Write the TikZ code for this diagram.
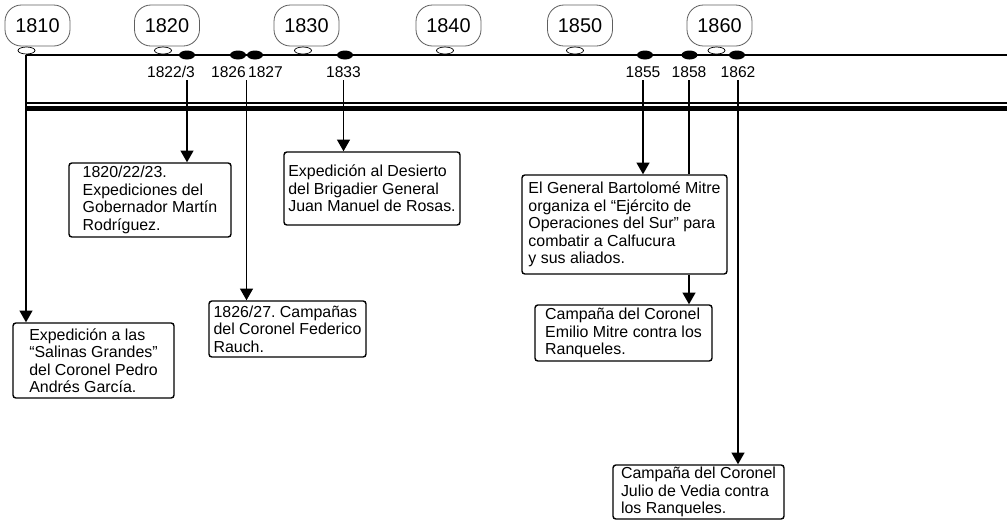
\documentclass[tikz,border=0pt]{standalone}
\usepackage{fontspec}
\setmainfont{Liberation Sans}
\usetikzlibrary{arrows.meta,shapes.geometric,calc,positioning}
\definecolor{bubblegray}{RGB}{95,95,95}
\frenchspacing

\begin{document}
\begin{tikzpicture}[x=0.03cm, y=-0.03cm, >={Triangle[width=11pt,length=10pt]},
    year/.style={draw=bubblegray, line width=0.7pt, rounded corners=14pt, minimum width=1.95cm, minimum height=1.23cm, inner sep=0pt, font=\fontsize{17}{18}\selectfont},
    openmark/.style={ellipse, draw, fill=white, line width=0.6pt, minimum width=0.51cm, minimum height=0.21cm, inner sep=0pt},
    eventdot/.style={ellipse, fill=black, minimum width=0.48cm, minimum height=0.27cm, inner sep=0pt},
    datelabel/.style={anchor=base, inner sep=2.5pt, font=\fontsize{13.3}{14}\selectfont},
    event/.style={draw, line width=1.2pt, rounded corners=2.5pt, align=left, inner sep=0pt, font=\fontsize{13.6}{14.9}\selectfont},
    link/.style={line width=1.4pt},
    axis/.style={line width=1.6pt}]
        \useasboundingbox (0,0) rectangle (1007,522);

        % ejes
        \coordinate (t0) at (26,55);
        \coordinate (t1) at (1007,55);
        \coordinate (s0) at (26,103);
        \coordinate (s1) at (1007,103);
        \coordinate (u0) at (26,108.5);
        \coordinate (u1) at (1007,108.5);
        \draw[axis] (t0) -- (t1);
        \draw[line width=1.1pt] (s0) -- (s1);
        \draw[line width=4pt] (u0) -- (u1);

        % decadas
        \node[year]     (y1810) at (37.5,25.5)  {1810};
        \node[year]     (y1820) at (167,25.5)   {1820};
        \node[year]     (y1830) at (306.5,25.5) {1830};
        \node[year]     (y1840) at (448.5,25.5) {1840};
        \node[year]     (y1850) at (580,25.5)   {1850};
        \node[year]     (y1860) at (719.5,25.5) {1860};

        \node[openmark] (m1810) at (26.5,50.5)  {};
        \node[openmark] (m1820) at (163,50.5)   {};
        \node[openmark] (m1830) at (303,50.5)   {};
        \node[openmark] (m1840) at (445,50.5)   {};
        \node[openmark] (m1850) at (575,50.5)   {};
        \node[openmark] (m1860) at (716.5,50.5) {};

        % fechas
        \node[eventdot] (d1822) at (187,55)   {};
        \node[eventdot] (d1826) at (238,55)   {};
        \node[eventdot] (d1827) at (255,55)   {};
        \node[eventdot] (d1833) at (345,55)   {};
        \node[eventdot] (d1855) at (645,55)   {};
        \node[eventdot] (d1858) at (689.5,55) {};
        \node[eventdot] (d1862) at (737,55)   {};

        \node[datelabel] (l1822) at (171,77)   {1822/3};
        \node[datelabel] (l1826) at (228.5,77) {1826};
        \node[datelabel] (l1827) at (265.5,77) {1827};
        \node[datelabel] (l1833) at (343.5,77) {1833};
        \node[datelabel] (l1855) at (643,77)   {1855};
        \node[datelabel] (l1858) at (689,77)   {1858};
        \node[datelabel] (l1862) at (738,77)   {1862};

        % sucesos
        \node[event, minimum width=4.83cm, minimum height=2.25cm] (b1810) at (93.5,360.5)
            {Expedición a las\\“Salinas Grandes”\\del Coronel Pedro\\Andrés García.};
        \node[event, minimum width=4.86cm, minimum height=2.22cm] (b1820) at (150,200)
            {1820/22/23.\\Expediciones del\\Gobernador Martín\\Rodríguez.};
        \node[event, minimum width=4.71cm, minimum height=1.68cm] (b1826) at (287.5,329)
            {1826/27. Campañas\\del Coronel Federico\\Rauch.};
        \node[event, minimum width=5.28cm, minimum height=2.19cm] (b1833) at (372,188.5)
            {Expedición al Desierto\\del Brigadier General\\Juan Manuel de Rosas.};
        \node[event, minimum width=6.15cm, minimum height=2.97cm] (b1855) at (624.5,224.5)
            {El General Bartolomé Mitre\\organiza el “Ejército de\\Operaciones del Sur” para\\combatir a Calfucura\\y sus aliados.};
        \node[event, minimum width=5.31cm, minimum height=1.68cm] (b1858) at (623.5,333)
            {Campaña del Coronel\\Emilio Mitre contra los\\Ranqueles.};
        \node[event, minimum width=5.13cm, minimum height=1.62cm] (b1862) at (698.5,492)
            {Campaña del Coronel\\Julio de Vedia contra\\los Ranqueles.};

        % conectores
        \coordinate (c1826) at ($(d1826)!0.5!(d1827)$);
        \draw[link,->] (t0) -- (t0 |- b1810.north);
        \draw[link,->] (d1822 |- l1822.south) -- (d1822 |- b1820.north);
        \draw[link,->] (c1826 |- l1826.south) -- (c1826 |- b1826.north);
        \draw[link,->] (l1833.south) -- (l1833.south |- b1833.north);
        \draw[link,->] (l1855.south) -- (l1855.south |- b1855.north);
        \draw[link]    (l1858.south) -- (l1858.south |- b1855.north);
        \draw[link,->] (l1858.south |- b1855.south) -- (l1858.south |- b1858.north);
        \draw[link,->] (l1862.south) -- (l1862.south |- b1862.north);
\end{tikzpicture}
\end{document}
